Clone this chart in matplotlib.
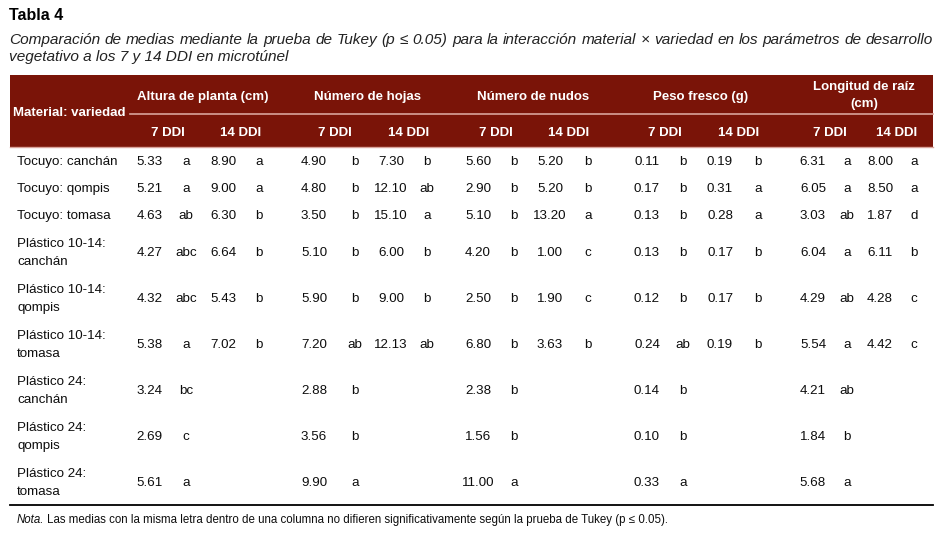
import matplotlib
matplotlib.use("Agg")
import matplotlib.pyplot as plt
from matplotlib import font_manager

names = {f.name for f in font_manager.fontManager.ttflist}
NARROW = "Liberation Sans Narrow" in names
FAM = ['Liberation Sans Narrow', 'DejaVu Sans'] if NARROW else ['Liberation Sans', 'DejaVu Sans']
plt.rcParams['font.family'] = FAM

# ---------------- data ----------------
title = "Tabla 4"
subtitle_1 = ("Comparación de medias mediante la prueba de Tukey (p ≤ 0.05) para la interacción "
              "material × variedad en los parámetros de desarrollo")
subtitle_2 = "vegetativo a los 7 y 14 DDI en microtúnel"
row_header = "Material: variedad"
params = ["Altura de planta (cm)", "Número de hojas", "Número de nudos",
          "Peso fresco (g)", "Longitud de raíz\n(cm)"]
times = ["7 DDI", "14 DDI"]
materials = ["Tocuyo: canchán", "Tocuyo: qompis", "Tocuyo: tomasa",
             "Plástico 10-14:\ncanchán", "Plástico 10-14:\nqompis", "Plástico 10-14:\ntomasa",
             "Plástico 24:\ncanchán", "Plástico 24:\nqompis", "Plástico 24:\ntomasa"]

altura_7 = [5.33, 5.21, 4.63, 4.27, 4.32, 5.38, 3.24, 2.69, 5.61]
altura_7_let = ["a", "a", "ab", "abc", "abc", "a", "bc", "c", "a"]
altura_14 = [8.90, 9.00, 6.30, 6.64, 5.43, 7.02, None, None, None]
altura_14_let = ["a", "a", "b", "b", "b", "b", "", "", ""]
hojas_7 = [4.90, 4.80, 3.50, 5.10, 5.90, 7.20, 2.88, 3.56, 9.90]
hojas_7_let = ["b", "b", "b", "b", "b", "ab", "b", "b", "a"]
hojas_14 = [7.30, 12.10, 15.10, 6.00, 9.00, 12.13, None, None, None]
hojas_14_let = ["b", "ab", "a", "b", "b", "ab", "", "", ""]
nudos_7 = [5.60, 2.90, 5.10, 4.20, 2.50, 6.80, 2.38, 1.56, 11.00]
nudos_7_let = ["b", "b", "b", "b", "b", "b", "b", "b", "a"]
nudos_14 = [5.20, 5.20, 13.20, 1.00, 1.90, 3.63, None, None, None]
nudos_14_let = ["b", "b", "a", "c", "c", "b", "", "", ""]
peso_7 = [0.11, 0.17, 0.13, 0.13, 0.12, 0.24, 0.14, 0.10, 0.33]
peso_7_let = ["b", "b", "b", "b", "b", "ab", "b", "b", "a"]
peso_14 = [0.19, 0.31, 0.28, 0.17, 0.17, 0.19, None, None, None]
peso_14_let = ["b", "a", "a", "b", "b", "b", "", "", ""]
raiz_7 = [6.31, 6.05, 3.03, 6.04, 4.29, 5.54, 4.21, 1.84, 5.68]
raiz_7_let = ["a", "a", "ab", "a", "ab", "a", "ab", "b", "a"]
raiz_14 = [8.00, 8.50, 1.87, 6.11, 4.28, 4.42, None, None, None]
raiz_14_let = ["a", "a", "d", "b", "c", "c", "", "", ""]

note_lead = "Nota."
note_text = ("Las medias con la misma letra dentro de una columna no difieren "
             "significativamente según la prueba de Tukey (p ≤ 0.05).")

columns = [(altura_7, altura_7_let), (altura_14, altura_14_let),
           (hojas_7, hojas_7_let), (hojas_14, hojas_14_let),
           (nudos_7, nudos_7_let), (nudos_14, nudos_14_let),
           (peso_7, peso_7_let), (peso_14, peso_14_let),
           (raiz_7, raiz_7_let), (raiz_14, raiz_14_let)]

# ---------------- layout (pixels) ----------------
W, H = 952, 546
HEAD_COLOR = "#7a1408"
LINE_COLOR = "#d9a39b"
TEXT_COLOR = "#0d0d0d"
value_x = [149.5, 223, 314, 391, 478, 550, 647, 720, 813, 880]
letter_x = [186, 259, 355, 427, 514, 588, 683, 758, 847, 914]
param_x = [203, 368, 533, 701, 864]
row_y = [162, 189, 216, 253, 299, 345, 391, 437, 483]

fig = plt.figure(figsize=(W / 100, H / 100), dpi=100)
ax = fig.add_axes([0, 0, 1, 1])
ax.set_xlim(0, W)
ax.set_ylim(H, 0)
ax.axis("off")
renderer = fig.canvas.get_renderer()


def text_w(t):
    return t.get_window_extent(renderer=renderer).width


def fit(s, target, height_pt, weight="normal", style="normal", wshare=0.5):
    t = ax.text(0, 0, s, fontsize=10, fontweight=weight, style=style)
    wfit = 10 * target / text_w(t)
    t.remove()
    if NARROW:
        return wfit
    return wshare * wfit + (1 - wshare) * height_pt


body_fs = fit("Tocuyo: canchán", 97, 10.0)
head_fs = fit("Material: variedad", 111, 10.0, weight="bold", wshare=0.75)
sub_fs = fit(subtitle_2, 269, 11.5, style="italic")
note_fs = fit(note_lead + " " + note_text, 648, 8.6, wshare=0.75)
title_fs = fit(title, 49, 12.5, weight="bold")
head_cap = head_fs * 100 / 72 * 0.72

# title
ax.text(9, 16, title, fontsize=title_fs, fontweight="bold", va="center", ha="left", color="black")

# justified subtitle line 1
words = subtitle_1.split(" ")
wtexts = [ax.text(0, 40, w, fontsize=sub_fs, style="italic", va="center", ha="left", color="#222222")
          for w in words]
wws = [text_w(t) for t in wtexts]
x0, x1 = 9, 933
gap = (x1 - x0 - sum(wws)) / (len(words) - 1)
x = x0
for t, ww in zip(wtexts, wws):
    t.set_x(x)
    x += ww + gap
ax.text(9, 57, subtitle_2, fontsize=sub_fs, style="italic", va="center", ha="left", color="#222222")

# header box
ax.add_patch(plt.Rectangle((10, 75), 923, 72, facecolor=HEAD_COLOR, edgecolor="none"))
ax.plot([130, 933], [114, 114], color=LINE_COLOR, lw=1.2)
ax.plot([10, 933], [147, 147], color=LINE_COLOR, lw=1.0)
ax.text(13, 111 + head_cap / 2, row_header, fontsize=head_fs, fontweight="bold", color="white",
        va="baseline", ha="left")
for px_, p in zip(param_x, params):
    if "\n" in p:
        ax.text(px_, 95.5, p, fontsize=head_fs, fontweight="bold", color="white",
                va="center", ha="center", multialignment="center", linespacing=1.55)
    else:
        ax.text(px_, 95 + head_cap / 2, p, fontsize=head_fs, fontweight="bold", color="white",
                va="baseline", ha="center")
for i, (vx, lx) in enumerate(zip(value_x, letter_x)):
    ax.text((vx + lx) / 2, 131 + head_cap / 2, times[i % 2], fontsize=head_fs, fontweight="bold",
            color="white", va="baseline", ha="center")

# body
for r, (lab, y) in enumerate(zip(materials, row_y)):
    ax.text(17, y, lab, fontsize=body_fs, va="center", ha="left", color=TEXT_COLOR, linespacing=1.6)
    for (vals, lets), vx, lx in zip(columns, value_x, letter_x):
        v = vals[r]
        if v is not None:
            ax.text(vx, y, f"{v:.2f}", fontsize=body_fs, va="center", ha="center", color=TEXT_COLOR)
            ax.text(lx, y, lets[r], fontsize=body_fs, va="center", ha="center", color=TEXT_COLOR)

ax.plot([10, 933], [505, 505], color="black", lw=1.3)

# note
tl = ax.text(17, 520, note_lead, fontsize=note_fs, style="italic", va="center", ha="left", color=TEXT_COLOR)
sp = note_fs * 100 / 72 * 0.2
ax.text(17 + text_w(tl) + sp, 520, note_text, fontsize=note_fs, va="center", ha="left", color=TEXT_COLOR)

fig.savefig("out.png", dpi=100, facecolor="white")
